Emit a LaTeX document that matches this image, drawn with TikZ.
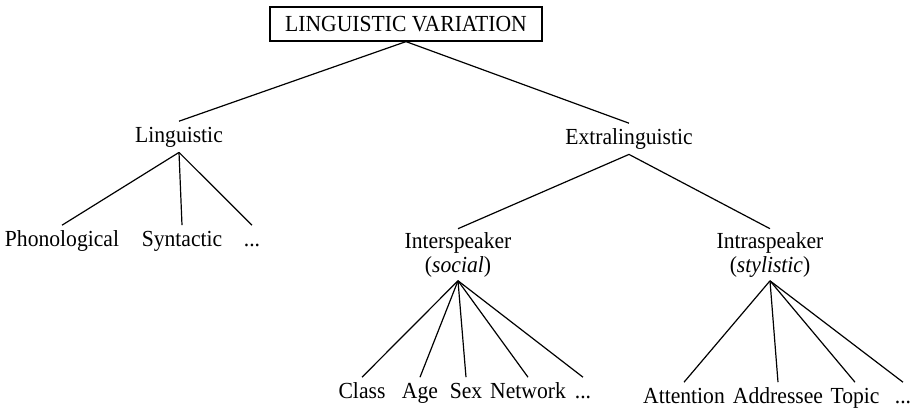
\documentclass[tikz,border=0pt]{standalone}
\usepackage{fontspec}
\setmainfont{Liberation Serif}[FakeStretch=0.94]
\usepackage{tikz}
\usetikzlibrary{positioning}

\begin{document}
\begin{tikzpicture}[x=0.5pt, y=-0.5pt, line width=0.6pt,
    every node/.style={font=\fontsize{11.5}{12}\selectfont},
    word/.style={anchor=base, inner sep=2.4pt, text height=7.7pt, text depth=2.5pt},
    split/.style={anchor=north, align=center, inner sep=1.5pt}]
    \useasboundingbox (0,0) rectangle (916,408);

    % --- NODES ---
    % Root (boxed)
    \node[draw, minimum width=136pt, minimum height=17pt, inner sep=0pt] (root) at (406,24) {LINGUISTIC VARIATION};

    % First level
    \node[word] (ling)  at (179,142) {Linguistic};
    \node[word] (extra) at (629,144) {Extralinguistic};

    % Under Linguistic
    \node[word] (phon)  at (62,246)  {Phonological};
    \node[word] (synt)  at (182,246) {Syntactic};
    \node[word] (ldots) at (252,246) {...};

    % Under Extralinguistic
    \node[split] (inter) at (458,228.7) {Interspeaker\\(\textit{social})};
    \node[split] (intra) at (770,228.7) {Intraspeaker\\(\textit{stylistic})};

    % Under Interspeaker
    \node[word] (class) at (362,398) {Class};
    \node[word] (age)   at (420,398) {Age};
    \node[word] (sex)   at (466,398) {Sex};
    \node[word] (net)   at (528,398) {Network};
    \node[word] (sdots) at (583,398) {...};

    % Under Intraspeaker
    \node[word] (att)   at (684,403) {Attention};
    \node[word] (addr)  at (778,403) {Addressee};
    \node[word] (topic) at (855,403) {Topic};
    \node[word] (tdots) at (903,403) {...};

    % --- EDGES ---
    \path (root.south) edge (ling.north)
          (root.south) edge (extra.north);

    \path (ling.south) edge (phon.north)
          (ling.south) edge (synt.north)
          (ling.south) edge (ldots.north);

    \path (extra.south) edge (inter.north)
          (extra.south) edge (intra.north);

    \foreach \leaf in {class, age, sex, net, sdots}
        \draw (inter.south) -- (\leaf.north);

    \foreach \leaf in {att, addr, topic, tdots}
        \draw (intra.south) -- (\leaf.north);

\end{tikzpicture}
\end{document}
